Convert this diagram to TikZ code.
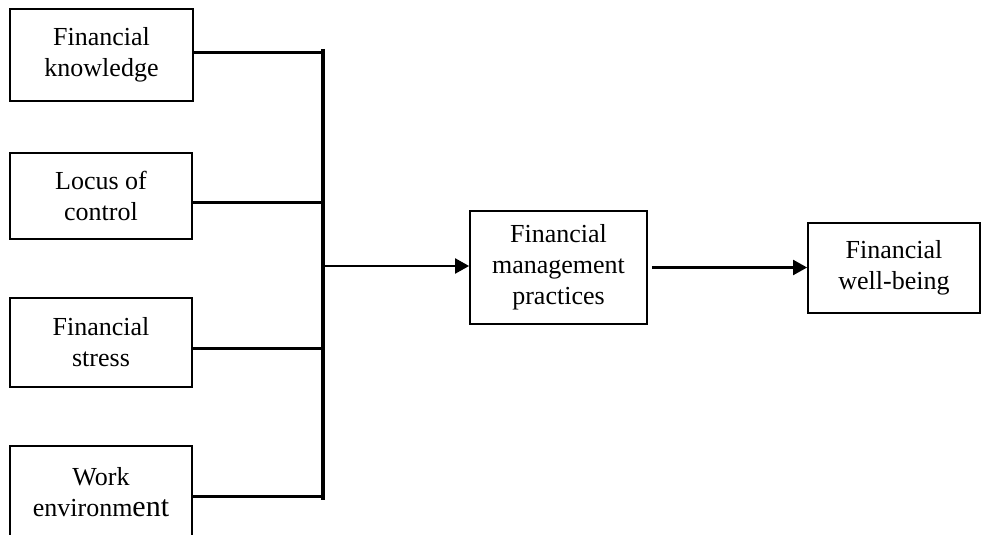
\documentclass[tikz,border=0pt]{standalone}
\usepackage{fontspec}
\setmainfont{Liberation Serif}
\usetikzlibrary{arrows.meta}
\begin{document}
\begin{tikzpicture}[x=1pt,y=-1pt,
  box/.style={draw,line width=1.8pt,align=center,inner sep=0pt,
    font=\fontsize{26}{31}\selectfont},
  stub/.style={line width=3pt},
  bus/.style={line width=3.3pt},
  arr/.style={line width=2.2pt,-{Triangle[length=14pt,width=15pt]}}]
\useasboundingbox (0,0) rectangle (982,535);
\clip (0,0) rectangle (982,535);
\node[box,minimum width=183pt,minimum height=92pt] (b1) at (101.5,55) {Financial\\knowledge};
\node[box,minimum width=182pt,minimum height=86pt] (b2) at (101,196) {Locus of\\control};
\node[box,minimum width=182pt,minimum height=89pt] (b3) at (101,342.5) {Financial\\stress};
\node[box,minimum width=182pt,minimum height=92pt] (b4) at (101,492) {Work\\environm{\fontsize{30}{31}\selectfont ent}};
\node[box,minimum width=177pt,minimum height=113pt] (m) at (558.5,267.5) {Financial\\management\\practices};
\node[box,minimum width=172pt,minimum height=90pt] (r) at (894,268) {Financial\\well-being};
\coordinate (bt) at (323,49);
\coordinate (bb) at (323,500);
\draw[bus] (bt) -- (bb);
\draw[stub] ([yshift=2pt]b1.east) -- ([yshift=2pt]b1.east -| bt);
\draw[stub] ([yshift=-6pt]b2.east) -- ([yshift=-6pt]b2.east -| bt);
\draw[stub] ([yshift=-5.5pt]b3.east) -- ([yshift=-5.5pt]b3.east -| bt);
\draw[stub] ([yshift=-4pt]b4.east) -- ([yshift=-4pt]b4.east -| bt);
\draw[arr] ([yshift=1.5pt]m.west -| bt) -- ([yshift=1.5pt]m.west);
\draw[arr] ([xshift=4pt]m.east) -- (m.east -| r.west);
\end{tikzpicture}
\end{document}
